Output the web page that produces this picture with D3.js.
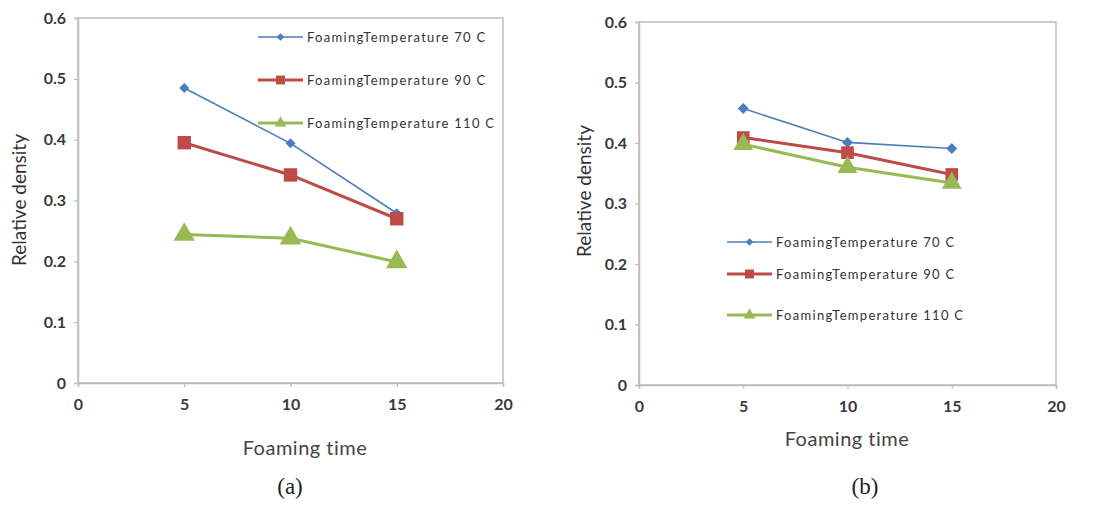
<!doctype html>
<html lang="en">
<head>
  <meta charset="UTF-8">
  <title>Relative density vs foaming time</title>
  <style type="text/css">
    body { margin: 0; background: #fff; }
    svg text { font-family: Lato, "Open Sans", sans-serif; }
  </style>
  <script src="https://cdn.jsdelivr.net/npm/d3@7"></script>
</head>
<body>
  <svg id="chart" width="1102" height="507"></svg>
  <script>
    // data
    let times = [5, 10, 15]
    let seriesNames = ['FoamingTemperature 70 C', 'FoamingTemperature 90 C', 'FoamingTemperature 110 C']
    let panelA70 = [0.485, 0.394, 0.279]
    let panelA90 = [0.395, 0.342, 0.270]
    let panelA110 = [0.244, 0.238, 0.199]
    let panelB70 = [0.457, 0.401, 0.391]
    let panelB90 = [0.409, 0.384, 0.348]
    let panelB110 = [0.398, 0.360, 0.334]
    let xTicks = [0, 5, 10, 15, 20]
    let yTicks = [0, 0.1, 0.2, 0.3, 0.4, 0.5, 0.6]

    let colors = ['#4a7ebb', '#be4b48', '#98b954']
    let shapes = [d3.symbolSquare, d3.symbolSquare, d3.symbolTriangle]
    let rotate = [45, 0, 0] // diamond = square turned 45deg

    let svg = d3.select('#chart')

    function marker(sel, i, size, px, py) {
      sel.attr('transform', 'translate(' + px + ',' + py + ') rotate(' + rotate[i] + ')')
        .attr('d', d3.symbol().type(shapes[i]).size(size))
        .attr('fill', colors[i])
    }

    function drawPanel(opt) {
      let x = d3.scaleLinear().domain([0, 20]).range([opt.left, opt.right])
      let y = d3.scaleLinear().domain([0, 0.6]).range([opt.bottom, opt.top])
      let g = svg.append('g')

      // plot frame
      g.append('rect')
        .attr('x', opt.left).attr('y', opt.top)
        .attr('width', opt.right - opt.left).attr('height', opt.bottom - opt.top)
        .attr('fill', 'none').attr('stroke', '#bdbdbd').attr('stroke-width', 1.5)

      g.append('g')
        .attr('transform', 'translate(' + opt.left + ',0)')
        .call(d3.axisLeft(y).tickValues(yTicks).tickSize(4).tickPadding(8)
          .tickFormat(function (d) { return d === 0 ? '0' : d3.format('.1f')(d) }))
      g.append('g')
        .attr('transform', 'translate(0,' + opt.bottom + ')')
        .call(d3.axisBottom(x).tickValues(xTicks).tickSize(4).tickPadding(12))
      g.selectAll('.domain').attr('stroke', '#bdbdbd').attr('stroke-width', 1.5)
      g.selectAll('.tick line').attr('stroke', '#bdbdbd').attr('stroke-width', 1.2)
      g.selectAll('.tick text')
        .attr('font-size', 16).attr('font-weight', 'bold').attr('fill', '#3a3a3a')
        .style('font-family', 'Lato, sans-serif')

      // series
      opt.series.forEach(function (vals, i) {
        let pts = times.map(function (t, j) { return [t, vals[j]] })
        g.append('path')
          .datum(pts)
          .attr('fill', 'none')
          .attr('stroke', colors[i])
          .attr('stroke-width', opt.lineW[i])
          .attr('d', d3.line().x(function (d) { return x(d[0]) }).y(function (d) { return y(d[1]) }))
        pts.forEach(function (d) {
          g.append('path').call(marker, i, opt.markSize[i], x(d[0]), y(d[1]))
        })
      })

      // legend
      seriesNames.forEach(function (name, i) {
        let ly = opt.legY[i]
        g.append('line')
          .attr('x1', opt.legX).attr('x2', opt.legX + 45)
          .attr('y1', ly).attr('y2', ly)
          .attr('stroke', colors[i]).attr('stroke-width', opt.lineW[i])
        g.append('path').call(marker, i, opt.legMark[i], opt.legX + 22.5, ly)
        g.append('text')
          .attr('x', opt.legX + 49).attr('y', ly + 4.5)
          .attr('font-size', 13).attr('fill', '#333')
          .attr('letter-spacing', 1.3)
          .text(name)
      })

      // axis titles
      g.append('text')
        .attr('transform', 'translate(' + opt.yTitleX + ',' + opt.yTitleY + ') rotate(-90)')
        .attr('text-anchor', 'middle').attr('font-size', 19).attr('fill', '#333')
        .text('Relative density')
      g.append('text')
        .attr('x', opt.xTitleX).attr('y', opt.xTitleY)
        .attr('text-anchor', 'middle').attr('font-size', 20).attr('fill', '#444')
        .attr('letter-spacing', 0.5)
        .text('Foaming time')
      g.append('text')
        .attr('x', opt.capX).attr('y', 494)
        .attr('text-anchor', 'middle').attr('font-size', 23).attr('fill', '#222')
        .style('font-family', '"Liberation Serif", "DejaVu Serif", serif')
        .text(opt.caption)
    }

    drawPanel({
      left: 78, right: 503, top: 18, bottom: 383,
      series: [panelA70, panelA90, panelA110],
      lineW: [1.6, 3, 3], markSize: [50, 180, 200], legMark: [30, 80, 60],
      legX: 258, legY: [37, 80, 123],
      yTitleX: 26, yTitleY: 200, xTitleX: 305, xTitleY: 455, capX: 290, caption: '(a)'
    })
    drawPanel({
      left: 639, right: 1056, top: 22, bottom: 385,
      series: [panelB70, panelB90, panelB110],
      lineW: [1.6, 3, 3], markSize: [60, 160, 170], legMark: [30, 80, 60],
      legX: 727, legY: [242, 274, 315],
      yTitleX: 591, yTitleY: 191, xTitleX: 847, xTitleY: 446, capX: 865, caption: '(b)'
    })
  </script>
</body>
</html>
